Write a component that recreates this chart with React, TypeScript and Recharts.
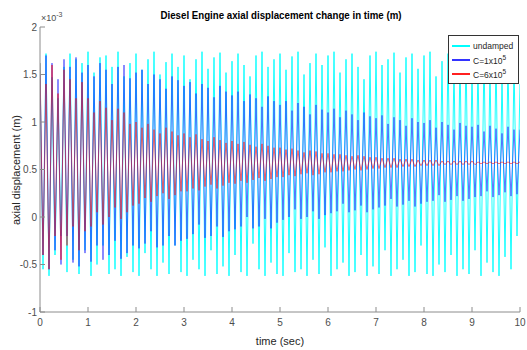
import React from 'react';
import { LineChart, Line, XAxis, YAxis } from 'recharts';

// values in units of 1e-3 m, read as alternating peaks / troughs (8 cycles per second)
const undampedPeaks = [
    1.62, 1.72, 1.47, 1.25, 1.58, 1.72, 1.66, 1.62,
    1.74, 1.52, 1.68, 1.70, 1.58, 1.74, 1.48, 1.62,
    1.72, 1.55, 1.66, 1.74, 1.50, 1.63, 1.72, 1.58,
    1.70, 1.45, 1.66, 1.74, 1.56, 1.68, 1.73, 1.52,
    1.64, 1.72, 1.60, 1.48, 1.70, 1.74, 1.58, 1.66,
    1.72, 1.55, 1.69, 1.74, 1.50, 1.62, 1.72, 1.60,
    1.70, 1.74, 1.52, 1.66, 1.72, 1.58, 1.45, 1.70,
    1.74, 1.60, 1.66, 1.73, 1.52, 1.68, 1.72, 1.56,
    1.70, 1.74, 1.48, 1.64, 1.72, 1.60, 1.69, 1.74,
    1.55, 1.62, 1.72, 1.58, 1.70, 1.50, 1.66, 1.60,
    1.40,
];
const undampedTroughs = [
    -0.55, -0.62, -0.40, -0.20, -0.58, -0.45, -0.60, -0.35,
    -0.62, -0.50, -0.30, -0.60, -0.55, -0.62, -0.42, -0.58,
    -0.62, -0.38, -0.55, -0.62, -0.48, -0.60, -0.30, -0.58,
    -0.62, -0.45, -0.55, -0.62, -0.35, -0.60, -0.52, -0.62,
    -0.40, -0.58, -0.62, -0.28, -0.55, -0.62, -0.48, -0.60,
    -0.62, -0.38, -0.58, -0.55, -0.62, -0.45, -0.60, -0.32,
    -0.62, -0.55, -0.48, -0.62, -0.58, -0.40, -0.62, -0.52,
    -0.60, -0.35, -0.62, -0.55, -0.45, -0.62, -0.58, -0.30,
    -0.60, -0.62, -0.50, -0.58, -0.40, -0.62, -0.55, -0.60,
    -0.35, -0.62, -0.48, -0.58, -0.62, -0.42, -0.55, -0.20,
];
const c1Peaks = [
    1.50, 1.70, 1.62, 1.45, 1.66, 1.58, 1.68, 1.52,
    1.60, 1.48, 1.62, 1.55, 1.40, 1.58, 1.60, 1.46,
    1.52, 1.55, 1.40, 1.50, 1.45, 1.35, 1.48, 1.44,
    1.38, 1.42, 1.30, 1.40, 1.36, 1.26, 1.38, 1.32,
    1.28, 1.32, 1.22, 1.29, 1.25, 1.16, 1.27, 1.22,
    1.18, 1.22, 1.12, 1.20, 1.16, 1.08, 1.18, 1.13,
    1.10, 1.14, 1.05, 1.12, 1.08, 1.02, 1.10, 1.06,
    1.04, 1.07, 0.98, 1.05, 1.02, 0.96, 1.04, 1.00,
    0.99, 1.02, 0.94, 1.00, 0.97, 0.92, 0.99, 0.96,
    0.95, 0.97, 0.90, 0.96, 0.93, 0.88, 0.95, 0.92,
    0.92,
];
const c1Troughs = [
    -0.40, -0.55, -0.35, -0.50, -0.20, -0.48, -0.52, -0.38,
    -0.47, -0.30, -0.45, -0.40, -0.25, -0.44, -0.38, -0.30,
    -0.33, -0.28, -0.15, -0.32, -0.30, -0.20, -0.30, -0.25,
    -0.23, -0.18, -0.08, -0.22, -0.20, -0.10, -0.21, -0.15,
    -0.13, -0.10, 0.00, -0.12, -0.10, -0.02, -0.12, -0.06,
    -0.03, 0.00, 0.08, -0.02, 0.00, 0.06, -0.02, 0.02,
    0.04, 0.06, 0.14, 0.05, 0.07, 0.12, 0.05, 0.08,
    0.10, 0.12, 0.19, 0.11, 0.13, 0.17, 0.11, 0.14,
    0.16, 0.17, 0.23, 0.16, 0.18, 0.22, 0.17, 0.19,
    0.21, 0.22, 0.27, 0.21, 0.23, 0.26, 0.22, 0.24,
];
const c6Peaks = [
    1.62, 1.40, 1.60, 1.30, 1.55, 1.45, 1.25, 1.42,
    1.25, 1.10, 1.22, 1.15, 1.02, 1.14, 1.10, 0.98,
    1.00, 0.94, 0.98, 0.92, 0.88, 0.94, 0.90, 0.86,
    0.88, 0.84, 0.87, 0.82, 0.80, 0.84, 0.81, 0.78,
    0.80, 0.77, 0.79, 0.76, 0.74, 0.77, 0.75, 0.73,
    0.73, 0.71, 0.72, 0.70, 0.68, 0.70, 0.69, 0.67,
    0.67, 0.66, 0.66, 0.65, 0.64, 0.65, 0.64, 0.63,
    0.63, 0.62, 0.62, 0.62, 0.61, 0.61, 0.61, 0.60,
    0.60, 0.60, 0.60, 0.59, 0.59, 0.59, 0.59, 0.59,
    0.59, 0.58, 0.58, 0.58, 0.58, 0.58, 0.58, 0.58,
    0.58,
];
const c6Troughs = [
    -0.40, -0.55, -0.20, -0.45, -0.30, -0.10, -0.35, -0.15,
    -0.10, 0.05, -0.08, 0.00, 0.10, -0.02, 0.05, 0.12,
    0.14, 0.20, 0.16, 0.22, 0.25, 0.19, 0.23, 0.27,
    0.27, 0.30, 0.28, 0.32, 0.34, 0.30, 0.33, 0.36,
    0.35, 0.38, 0.36, 0.39, 0.41, 0.38, 0.40, 0.42,
    0.42, 0.44, 0.43, 0.45, 0.46, 0.44, 0.45, 0.47,
    0.47, 0.48, 0.48, 0.49, 0.50, 0.49, 0.50, 0.51,
    0.51, 0.52, 0.52, 0.52, 0.53, 0.53, 0.53, 0.54,
    0.54, 0.54, 0.54, 0.55, 0.55, 0.55, 0.55, 0.55,
    0.55, 0.56, 0.56, 0.56, 0.56, 0.56, 0.56, 0.56,
];

const xTicks = [0, 1, 2, 3, 4, 5, 6, 7, 8, 9, 10];
const yTicks = [-1, -0.5, 0, 0.5, 1, 1.5, 2];

const halfPeriod = 0.0625;

const data: any[] = [];
undampedPeaks.forEach((_, i) => {
    data.push({ t: i * 2 * halfPeriod, u: undampedPeaks[i], c1: c1Peaks[i], c6: c6Peaks[i] });
    if (i < undampedTroughs.length) {
        data.push({ t: (i * 2 + 1) * halfPeriod, u: undampedTroughs[i], c1: c1Troughs[i], c6: c6Troughs[i] });
    }
});

const FONT = '"Liberation Sans", Arial, Helvetica, sans-serif';
const axisColor = '#8c8c8c';
const tickStyle = { fontSize: 10, fill: '#4d4d4d', fontFamily: FONT };

const legendItems = [
    { color: '#00ffff', label: 'undamped', exp: '' },
    { color: '#3333ff', label: 'C=1x10', exp: '5' },
    { color: '#ff2020', label: 'C=6x10', exp: '5' },
];

const App = () => {
    return (
        <div style={{ position: 'relative', width: 527, height: 350, background: '#fff' }}>
            <style>{'body{margin:0}'}</style>
            <LineChart width={527} height={350} data={data} margin={{ top: 27, right: 7, left: 10, bottom: 0 }}>
                <XAxis dataKey="t" type="number" domain={[0, 10]} ticks={xTicks} allowDataOverflow
                    height={38} stroke={axisColor} tickSize={-5} tickMargin={12} tick={tickStyle} />
                <XAxis xAxisId="top" orientation="top" dataKey="t" type="number" domain={[0, 10]} ticks={xTicks}
                    height={0} stroke={axisColor} tickSize={-5} tick={{ fill: 'none' }} />
                <YAxis domain={[-1, 2]} ticks={yTicks} width={30} allowDataOverflow
                    stroke={axisColor} tickSize={-5} tickMargin={8} tick={tickStyle} />
                <YAxis yAxisId="right" orientation="right" domain={[-1, 2]} ticks={yTicks} width={0}
                    stroke={axisColor} tickSize={-5} tick={{ fill: 'none' }} />
                <Line dataKey="u" stroke="#00ffff" strokeWidth={0.9} dot={false} isAnimationActive={false} />
                <Line dataKey="c1" stroke="#1a1aff" strokeWidth={0.8} strokeOpacity={0.75} dot={false} isAnimationActive={false} />
                <Line dataKey="c6" stroke="#ff0000" strokeWidth={0.8} strokeOpacity={0.7} dot={false} isAnimationActive={false} />
            </LineChart>
            <div style={{
                position: 'absolute', left: 448, top: 35, width: 71, height: 49, background: '#fff',
                border: '1px solid #333', fontFamily: FONT, fontSize: 8.5, color: '#262626',
                boxSizing: 'border-box', paddingTop: 3,
            }}>
                {legendItems.map((it) => (
                    <div key={it.label + it.color} style={{ display: 'flex', alignItems: 'center', height: 14 }}>
                        <div style={{ width: 18, height: 2, background: it.color, marginLeft: 3, marginRight: 3 }} />
                        <span>{it.label}{it.exp && <sup style={{ fontSize: 6.5 }}>{it.exp}</sup>}</span>
                    </div>
                ))}
            </div>
            <svg width={527} height={350} style={{ position: 'absolute', left: 0, top: 0, pointerEvents: 'none' }}>
                <text x={281} y={19} textAnchor="middle" fontFamily={FONT} fontSize={10} fontWeight="bold"
                    fill="#000" textLength={241} lengthAdjust="spacingAndGlyphs">
                    Diesel Engine axial displacement change in time (m)
                </text>
                <text x={41} y={21} fontFamily={FONT} fontSize={9} fill="#4d4d4d">
                    ×10<tspan dy={-4} fontSize={7}>-3</tspan>
                </text>
                <text x={280} y={345} textAnchor="middle" fontFamily={FONT} fontSize={11} fill="#262626">
                    time (sec)
                </text>
                <text x={20} y={170} textAnchor="middle" fontFamily={FONT} fontSize={11} fill="#262626"
                    transform="rotate(-90 20 170)">
                    axial displacement (m)
                </text>
            </svg>
        </div>
    );
};

export default App;
